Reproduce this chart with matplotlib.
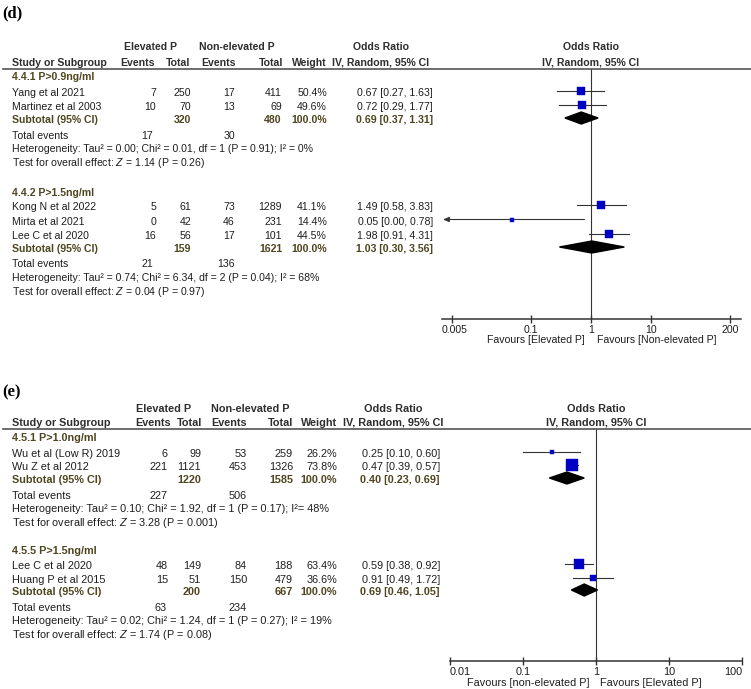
import matplotlib
matplotlib.use('Agg')
import matplotlib.pyplot as plt
from matplotlib.patches import Polygon
from matplotlib.lines import Line2D
import matplotlib.transforms as mtrans

# ---------------- DATA ----------------
# Panel (d)
d_groups = ["4.4.1 P>0.9ng/ml", "4.4.2 P>1.5ng/ml"]
d_study = ["Yang et al 2021", "Martinez et al 2003",
           "Kong N et al 2022", "Mirta et al 2021", "Lee C et al 2020"]
d_group_of = [0, 0, 1, 1, 1]
d_ev1 = [7, 10, 5, 0, 16]
d_tot1 = [250, 70, 61, 42, 56]
d_ev2 = [17, 13, 73, 46, 17]
d_tot2 = [411, 69, 1289, 231, 101]
d_weight = [50.4, 49.6, 41.1, 14.4, 44.5]
d_or = [0.67, 0.72, 1.49, 0.05, 1.98]
d_lo = [0.27, 0.29, 0.58, 0.00, 0.91]
d_hi = [1.63, 1.77, 3.83, 0.78, 4.31]
d_sub_tot1 = [320, 159]
d_sub_tot2 = [480, 1621]
d_sub_or = [0.69, 1.03]
d_sub_lo = [0.37, 0.30]
d_sub_hi = [1.31, 3.56]
d_sub_ev1 = [17, 21]
d_sub_ev2 = [30, 136]
d_het = ["Heterogeneity: Tau\u00b2 = 0.00; Chi\u00b2 = 0.01, df = 1 (P = 0.91); I\u00b2 = 0%",
         "Heterogeneity: Tau\u00b2 = 0.74; Chi\u00b2 = 6.34, df = 2 (P = 0.04); I\u00b2 = 68%"]
d_z = ["1.14", "0.04"]
d_p = ["0.26", "0.97"]
d_ticks = [0.005, 0.1, 1, 10, 200]
d_ticklabels = ["0.005", "0.1", "1", "10", "200"]
d_fav = ["Favours [Elevated P]", "Favours [Non-elevated P]"]

# Panel (e)
e_groups = ["4.5.1 P>1.0ng/ml", "4.5.5 P>1.5ng/ml"]
e_study = ["Wu et al (Low R) 2019", "Wu Z et al 2012",
           "Lee C et al 2020", "Huang P et al 2015"]
e_group_of = [0, 0, 1, 1]
e_ev1 = [6, 221, 48, 15]
e_tot1 = [99, 1121, 149, 51]
e_ev2 = [53, 453, 84, 150]
e_tot2 = [259, 1326, 188, 479]
e_weight = [26.2, 73.8, 63.4, 36.6]
e_or = [0.25, 0.47, 0.59, 0.91]
e_lo = [0.10, 0.39, 0.38, 0.49]
e_hi = [0.60, 0.57, 0.92, 1.72]
e_sub_tot1 = [1220, 200]
e_sub_tot2 = [1585, 667]
e_sub_or = [0.40, 0.69]
e_sub_lo = [0.23, 0.46]
e_sub_hi = [0.69, 1.05]
e_sub_ev1 = [227, 63]
e_sub_ev2 = [506, 234]
e_het = ["Heterogeneity: Tau\u00b2 = 0.10; Chi\u00b2 = 1.92, df = 1 (P = 0.17); I\u00b2= 48%",
         "Heterogeneity: Tau\u00b2 = 0.02; Chi\u00b2 = 1.24, df = 1 (P = 0.27); I\u00b2 = 19%"]
e_z = ["3.28", "1.74"]
e_p = ["0.001", "0.08"]
e_ticks = [0.01, 0.1, 1, 10, 100]
e_ticklabels = ["0.01", "0.1", "1", "10", "100"]
e_fav = ["Favours [non-elevated P]", "Favours [Elevated P]"]

# ---------------- STYLE ----------------
plt.rcParams['font.family'] = ['Liberation Sans', 'DejaVu Sans']
plt.rcParams['mathtext.fontset'] = 'custom'
plt.rcParams['mathtext.rm'] = 'Liberation Sans'
plt.rcParams['mathtext.it'] = 'Liberation Sans:italic'
plt.rcParams['mathtext.bf'] = 'Liberation Sans:bold'

TXT = '#1e1e1e'
HDR = '#2e2e2e'
OLIVE = '#4f4520'
BLUE = '#0000c4'
LINE = '#333333'

W, H = 751, 689
fig = plt.figure(figsize=(W / 100, H / 100), dpi=100)


def fx(x):
    return x / W


def fy(y):
    return 1 - y / H


def T(x, y, s, ha='left', size=7.4, bold=False, color=TXT, family=None):
    kw = {}
    if family:
        kw['family'] = family
    fig.text(fx(x), fy(y + 3.7 * size / 7.4), s, ha=ha, va='baseline',
             fontsize=size, fontweight='bold' if bold else 'normal',
             color=color, **kw)


def panel(L, groups, study, group_of, ev1, tot1, ev2, tot2, weight, orr, lo, hi,
          sub_tot1, sub_tot2, sub_or, sub_lo, sub_hi, sub_ev1, sub_ev2,
          het, zs, ps, ticks, ticklabels, fav):
    fs = L['fs']
    C = L['cols']
    # panel label
    T(2, L['label_y'], L['label'], size=12, bold=True, color='black',
      family=['Liberation Serif', 'DejaVu Serif'])
    # headers
    T(C['ev1h_c'], L['h1'], "Elevated P", ha='center', size=fs, bold=True, color=HDR)
    T(C['ev2h_c'], L['h1'], "Non-elevated P", ha='center', size=fs, bold=True, color=HDR)
    T(C['orh_c'], L['h1'], "Odds Ratio", ha='center', size=fs, bold=True, color=HDR)
    T(12, L['h2'], "Study or Subgroup", size=fs, bold=True, color=HDR)
    T(C['ev1h'], L['h2'], "Events", ha='right', size=fs, bold=True, color=HDR)
    T(C['tot1h'], L['h2'], "Total", ha='right', size=fs, bold=True, color=HDR)
    T(C['ev2h'], L['h2'], "Events", ha='right', size=fs, bold=True, color=HDR)
    T(C['tot2h'], L['h2'], "Total", ha='right', size=fs, bold=True, color=HDR)
    T(C['w'], L['h2'], "Weight", ha='right', size=fs, bold=True, color=HDR)
    T(C['orh_c'], L['h2'], "IV, Random, 95% CI", ha='center', size=fs, bold=True, color=HDR)
    fig.add_artist(Line2D([fx(3), 1.0], [fy(L['rule'])] * 2, color='#555555', lw=1.2))

    # forest axes
    ax = fig.add_axes([fx(L['ax_x0']), fy(L['ax_bot']),
                       (L['ax_x1'] - L['ax_x0']) / W, (L['ax_bot'] - L['rule']) / H])
    ax.set_xscale('log')
    ax.set_xlim(L['xlim'])
    ax.set_ylim(L['ax_bot'], L['rule'])
    for s in ['top', 'left', 'right']:
        ax.spines[s].set_visible(False)
    ax.spines['bottom'].set_color(LINE)
    ax.spines['bottom'].set_linewidth(1.1)
    ax.patch.set_alpha(0)
    ax.set_yticks([])
    ax.xaxis.set_major_locator(matplotlib.ticker.FixedLocator(ticks))
    ax.xaxis.set_minor_locator(matplotlib.ticker.NullLocator())
    ax.set_xticklabels(ticklabels)
    ax.tick_params(axis='x', direction='inout', length=6, width=1.0, color=LINE,
                   labelsize=fs, labelcolor=TXT, pad=1.2)
    ax.axvline(1, color=LINE, lw=0.8)

    # header over plot, centred at OR=1
    bt = mtrans.blended_transform_factory(ax.transData, fig.transFigure)
    for yy, s in [(L['h1'], "Odds Ratio"), (L['h2'], "IV, Random, 95% CI")]:
        ax.text(1, fy(yy + 3.7 * fs / 7.4), s, transform=bt, ha='center', va='baseline',
                fontsize=fs, fontweight='bold', color=HDR)
    # favours
    ax.annotate(fav[0], xy=(1, 0), xycoords=('data', 'axes fraction'),
                xytext=(L['fav_off'][0], -L['fav_dy']), textcoords='offset points',
                ha='right', va='center', fontsize=fs, color=TXT)
    ax.annotate(fav[1], xy=(1, 0), xycoords=('data', 'axes fraction'),
                xytext=(L['fav_off'][1], -L['fav_dy']), textcoords='offset points',
                ha='left', va='center', fontsize=fs, color=TXT)

    xmin = ax.get_xlim()[0]
    # studies
    for i, name in enumerate(study):
        y = L['study_y'][i]
        T(12, y, name, size=fs)
        T(C['ev1'], y, str(ev1[i]), ha='right', size=fs)
        T(C['tot1'], y, str(tot1[i]), ha='right', size=fs)
        T(C['ev2'], y, str(ev2[i]), ha='right', size=fs)
        T(C['tot2'], y, str(tot2[i]), ha='right', size=fs)
        T(C['w'], y, "%.1f%%" % weight[i], ha='right', size=fs)
        T(C['or'], y, "%.2f [%.2f, %.2f]" % (orr[i], lo[i], hi[i]), ha='right', size=fs)
        ym = y - 1.5
        if lo[i] < xmin:
            ax.annotate('', xy=(xmin * 1.04, ym), xytext=(hi[i], ym),
                        arrowprops=dict(arrowstyle='-|>,head_length=0.35,head_width=0.15',
                                        color=LINE, lw=0.8, shrinkA=0, shrinkB=0))
        else:
            ax.plot([lo[i], hi[i]], [ym, ym], color=LINE, lw=0.8)
        side = max(weight[i] * L['msc'], 4.0)
        ax.plot([orr[i]], [ym], marker='s', ms=side * 0.72, color=BLUE, mec=BLUE,
                mew=0.3, zorder=3)

    # groups
    for g, gname in enumerate(groups):
        T(12, L['group_y'][g], gname, size=fs, bold=True, color=OLIVE)
        ys = L['sub_y'][g]
        T(12, ys, "Subtotal (95% CI)", size=fs, bold=True, color=OLIVE)
        T(C['tot1'], ys, str(sub_tot1[g]), ha='right', size=fs, bold=True, color=OLIVE)
        T(C['tot2'], ys, str(sub_tot2[g]), ha='right', size=fs, bold=True, color=OLIVE)
        T(C['w'], ys, "100.0%", ha='right', size=fs, bold=True, color=OLIVE)
        T(C['or'], ys, "%.2f [%.2f, %.2f]" % (sub_or[g], sub_lo[g], sub_hi[g]),
          ha='right', size=fs, bold=True, color=OLIVE)
        ym = ys - 1
        hh = L['dh']
        ax.add_patch(Polygon([(sub_lo[g], ym), (sub_or[g], ym - hh),
                              (sub_hi[g], ym), (sub_or[g], ym + hh)],
                             closed=True, color='black', zorder=3))
        yt = L['te_y'][g]
        T(12, yt, "Total events", size=fs)
        T(C['te1'], yt, str(sub_ev1[g]), ha='right', size=fs)
        T(C['te2'], yt, str(sub_ev2[g]), ha='right', size=fs)
        T(12, L['het_y'][g], het[g], size=fs)
        T(12, L['test_y'][g], "Test for overall effect: $Z$ = %s (P = %s)" % (zs[g], ps[g]),
          size=fs)
    return ax


LD = dict(fs=7.6, label='(d)', label_y=11, h1=46, h2=62, rule=69,
          group_y=[76, 192], study_y=[92, 106, 206, 221, 235], sub_y=[119, 248],
          te_y=[135, 263], het_y=[148, 277], test_y=[162, 291],
          ax_x0=442, ax_x1=741, ax_bot=319, xlim=(0.00341, 304),
          fav_off=(-4.5, 4.5), fav_dy=15, msc=0.178, dh=6,
          cols={'ev1h_c': 151, 'ev2h_c': 237, 'orh_c': 381,
                'ev1h': 155, 'tot1h': 190, 'ev2h': 236, 'tot2h': 283,
                'ev1': 156, 'tot1': 191, 'ev2': 235, 'tot2': 282, 'w': 327,
                'te1': 153, 'te2': 235, 'or': 433})
LE = dict(fs=7.8, label='(e)', label_y=390, h1=408, h2=422, rule=429,
          group_y=[437, 550], study_y=[453, 466, 565, 579], sub_y=[479, 591],
          te_y=[495, 607], het_y=[508, 620], test_y=[522, 634],
          ax_x0=450, ax_x1=742, ax_bot=661, xlim=(0.01, 100),
          fav_off=(-4.5, 3), fav_dy=16, msc=0.165, dh=6,
          cols={'ev1h_c': 164, 'ev2h_c': 250, 'orh_c': 393,
                'ev1h': 171, 'tot1h': 202, 'ev2h': 247, 'tot2h': 293,
                'ev1': 168, 'tot1': 201, 'ev2': 247, 'tot2': 293, 'w': 337,
                'te1': 167, 'te2': 247, 'or': 440})

axes = []
axes.append(panel(LD, d_groups, d_study, d_group_of, d_ev1, d_tot1, d_ev2, d_tot2, d_weight,
                  d_or, d_lo, d_hi, d_sub_tot1, d_sub_tot2, d_sub_or, d_sub_lo, d_sub_hi,
                  d_sub_ev1, d_sub_ev2, d_het, d_z, d_p, d_ticks, d_ticklabels, d_fav))
axes.append(panel(LE, e_groups, e_study, e_group_of, e_ev1, e_tot1, e_ev2, e_tot2, e_weight,
                  e_or, e_lo, e_hi, e_sub_tot1, e_sub_tot2, e_sub_or, e_sub_lo, e_sub_hi,
                  e_sub_ev1, e_sub_ev2, e_het, e_z, e_p, e_ticks, e_ticklabels, e_fav))

# keep end tick labels inside the axis line (as RevMan does)
fig.canvas.draw()
r = fig.canvas.get_renderer()
for ax in axes:
    bb_ax = ax.get_window_extent(r)
    for lab in ax.get_xticklabels():
        bb = lab.get_window_extent(r)
        dx = 0
        if bb.x0 < bb_ax.x0:
            dx = bb_ax.x0 - bb.x0
        elif bb.x1 > bb_ax.x1:
            dx = bb_ax.x1 - bb.x1
        if dx:
            lab.set_transform(lab.get_transform() +
                              mtrans.ScaledTranslation(dx / 100, 0, fig.dpi_scale_trans))

fig.savefig('out.png', dpi=100, facecolor='white')
